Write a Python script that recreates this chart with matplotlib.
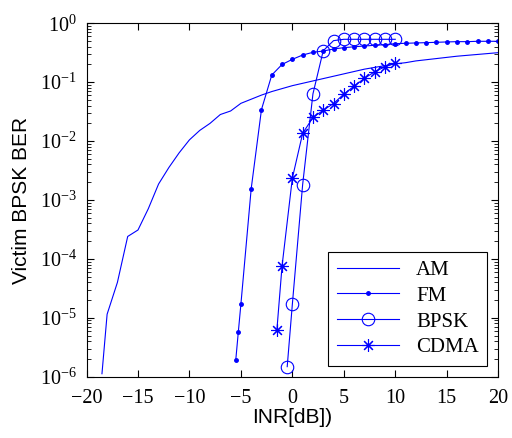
import numpy as np
import matplotlib
matplotlib.use('Agg')
import matplotlib.pyplot as plt

plt.rcParams['font.family'] = ['Liberation Serif', 'DejaVu Serif']
plt.rcParams['mathtext.fontset'] = 'stix'

# INR [dB] and log10(BER)
am_x = [-18.5, -18, -17, -16, -15, -14, -13, -12, -11, -10, -9, -8, -7, -6, -5, -4, -3,
        -2, -1, 0, 1, 2, 3, 4, 5, 6, 7, 8, 9, 10, 11, 12, 13, 14, 15, 16, 17, 18, 19, 20]
am_log = [-5.95, -4.94, -4.40, -3.62, -3.51, -3.15, -2.73, -2.45, -2.20, -1.98, -1.82,
          -1.70, -1.55, -1.49, -1.36, -1.29, -1.22, -1.16, -1.11, -1.06, -1.02, -0.98,
          -0.94, -0.90, -0.86, -0.82, -0.78, -0.75, -0.72, -0.69, -0.67, -0.64, -0.62,
          -0.60, -0.58, -0.56, -0.545, -0.53, -0.515, -0.50]

fm_x = [-5.5, -5.25, -5, -4, -3, -2, -1, 0, 1, 2, 3, 4, 5, 6, 7, 8, 9, 10, 11, 12,
        13, 14, 15, 16, 17, 18, 19, 20]
fm_log = [-5.72, -5.24, -4.77, -2.81, -1.465, -0.88, -0.70, -0.613, -0.54, -0.494,
          -0.472, -0.438, -0.415, -0.40, -0.387, -0.375, -0.364, -0.347, -0.341, -0.335,
          -0.33, -0.324, -0.318, -0.313, -0.313, -0.307, -0.307, -0.307]

bpsk_x = [-0.5, 0, 1, 2, 3, 4, 5, 6, 7, 8, 9, 10]
bpsk_log = [-5.83, -4.77, -2.74, -1.20, -0.467, -0.296, -0.273, -0.273, -0.273,
            -0.273, -0.273, -0.273]

cdma_x = [-1.5, -1, 0, 1, 2, 3, 4, 5, 6, 7, 8, 9, 10]
cdma_log = [-5.20, -4.12, -2.63, -1.87, -1.60, -1.477, -1.363, -1.204, -1.068,
            -0.937, -0.824, -0.739, -0.68]

blue = '#0000ff'
fig = plt.figure(figsize=(5.12, 4.38), dpi=100)
ax = fig.add_axes([0.169, 0.140, 0.804, 0.807])

ax.semilogy(am_x, 10 ** np.array(am_log), color=blue, lw=0.8, label='AM')
ax.semilogy(fm_x, 10 ** np.array(fm_log), color=blue, lw=0.8, marker='.',
            markersize=5, label='FM')
ax.semilogy(bpsk_x, 10 ** np.array(bpsk_log), color=blue, lw=0.8, marker='o',
            markersize=9, markerfacecolor='none', markeredgewidth=0.8, label='BPSK')
ax.semilogy(cdma_x, 10 ** np.array(cdma_log), color=blue, lw=0.8, marker=(8, 2, 0),
            markersize=9, markeredgewidth=0.8, label='CDMA')

ax.set_xlim(-20, 20)
ax.set_ylim(1e-6, 1)
ax.set_xticks(np.arange(-20, 21, 5))
ax.tick_params(which='both', direction='in', top=True, right=True, labelsize=14.5)
ax.tick_params(axis='x', which='major', length=5, pad=9)
ax.tick_params(axis='y', which='major', length=5, pad=7)
ax.tick_params(which='minor', length=3)
for s in ax.spines.values():
    s.set_linewidth(0.8)

ax.set_xlabel('INR[dB])', family='Liberation Sans', fontsize=15, labelpad=0)
ax.set_ylabel('Victim BPSK BER', family='Liberation Sans', fontsize=15, labelpad=6)

leg = ax.legend(loc='lower right', bbox_to_anchor=(0.973, 0.031), borderaxespad=0,
                fontsize=15, handlelength=3.0, labelspacing=0.3, fancybox=False,
                framealpha=1, edgecolor='black')
leg.get_frame().set_linewidth(0.8)

fig.savefig('out.png', dpi=100)
